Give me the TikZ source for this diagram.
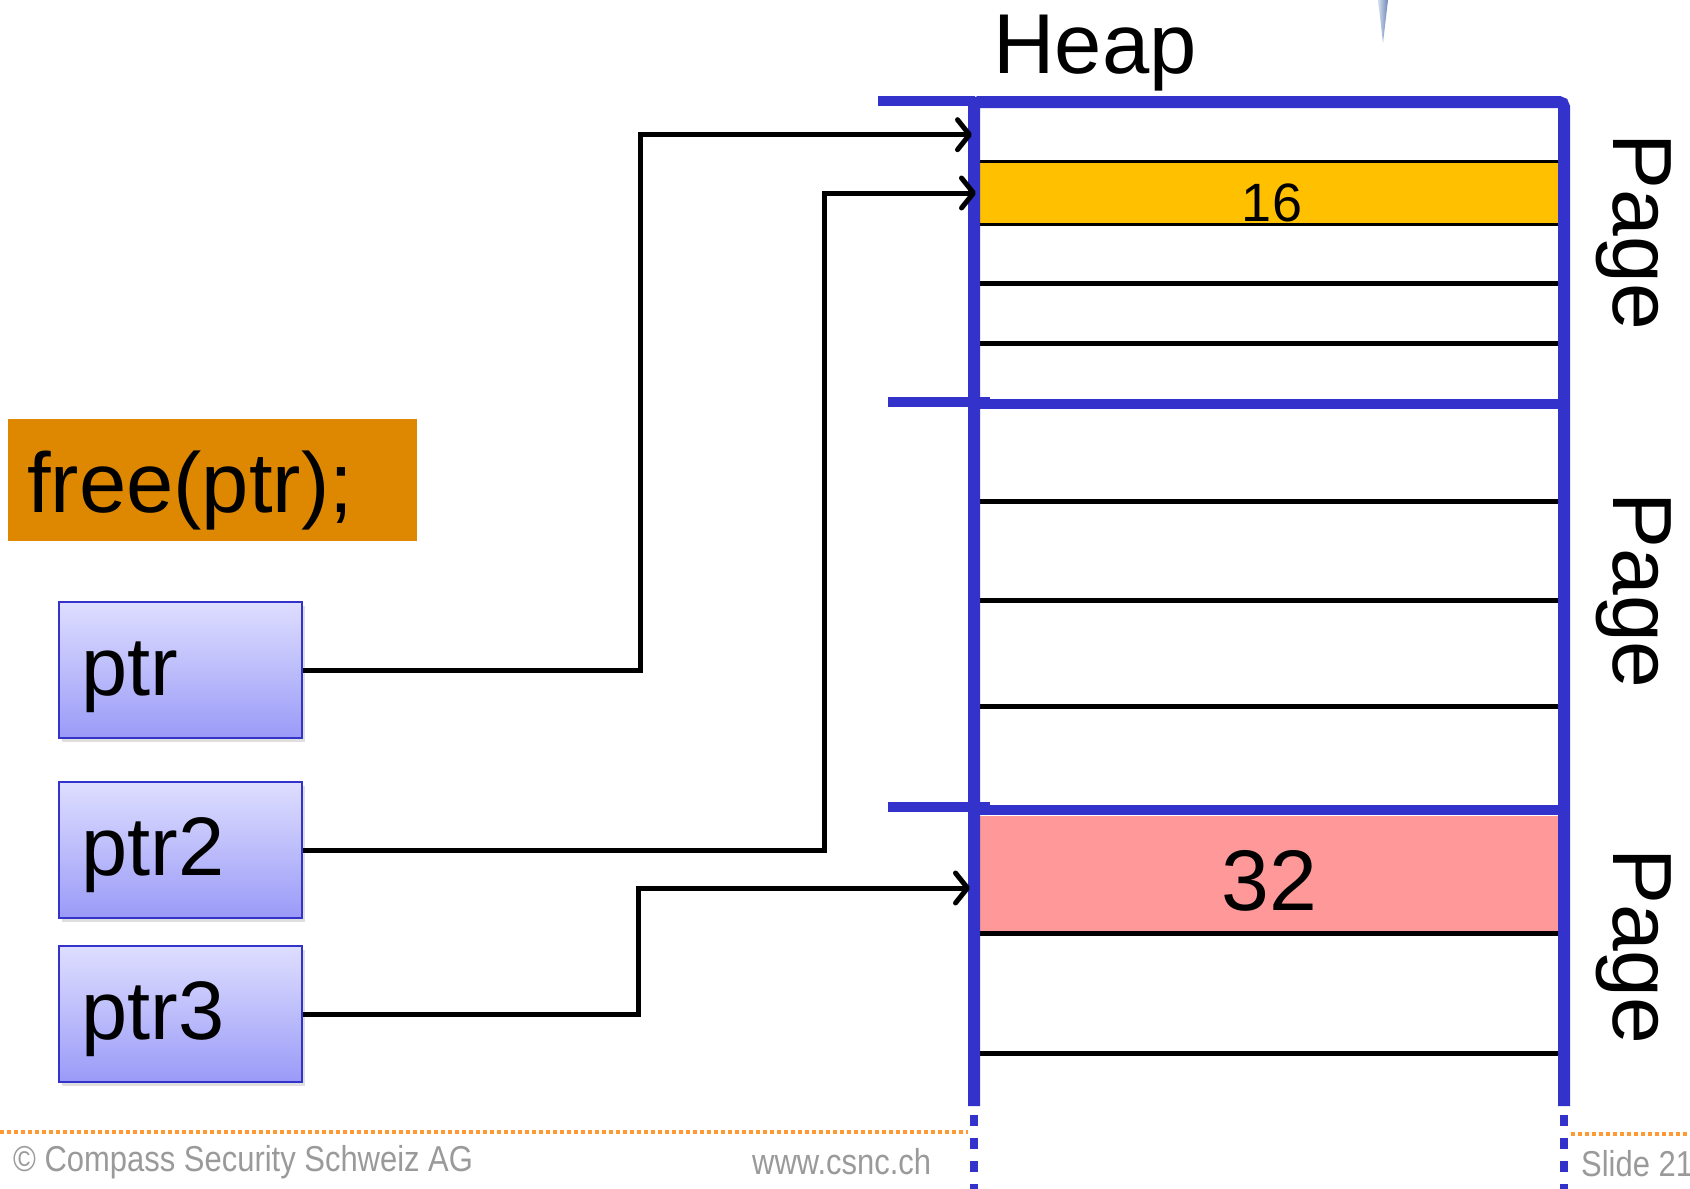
\documentclass[tikz,border=0pt]{standalone}
\usepackage{fontspec}
\usepackage{graphicx}
\setmainfont{Liberation Sans}
\usetikzlibrary{arrows.meta,shadows}
\definecolor{heapblue}{HTML}{3333CC}
\definecolor{slotyellow}{HTML}{FFC000}
\definecolor{slotpink}{HTML}{FF9999}
\definecolor{cmdorange}{HTML}{DD8800}
\definecolor{boxtop}{HTML}{DEDEFF}
\definecolor{boxbottom}{HTML}{9A9AF8}
\definecolor{footgray}{HTML}{9A9A9A}
\definecolor{footorange}{HTML}{FF9933}
\definecolor{tiplight}{HTML}{D4DEEE}
\definecolor{tipdark}{HTML}{6A86B8}
\newcommand\setfs[1]{\fontsize{#1}{#1}\selectfont}
\begin{document}
\begin{tikzpicture}[x=1pt,y=-1pt,
  wall/.style={draw=heapblue,line width=12pt},
  pagesep/.style={draw=heapblue,line width=9.5pt},
  slotline/.style={draw=black,line width=5pt},
  ptrbox/.style={draw=heapblue,line width=2pt,top color=boxtop,bottom color=boxbottom,
    minimum width=243pt,minimum height=136pt,inner sep=0pt,anchor=north west,
    drop shadow={opacity=0.25,shadow xshift=3pt,shadow yshift=-4pt}},
  ptrtext/.style={anchor=base west,inner sep=0pt,font=\setfs{83}},
  pagelabel/.style={anchor=base,rotate=-90,inner sep=0pt,font=\setfs{84}},
  link/.style={draw=black,line width=5pt,-{Straight Barb[length=12pt,width=30pt,round]}},
  foot/.style={inner sep=0pt,text=footgray,font=\setfs{36}},
  footdots/.style={draw=footorange,line width=4pt,dash pattern=on 4pt off 3pt}
]
\useasboundingbox (0,0) rectangle (1690,1189);

% small tapered pointer at the top edge
\shade[left color=tiplight,right color=tipdark]
  (1378,0) -- (1388,0) -- (1383,43) -- cycle;

% heap title
\node[anchor=base,inner sep=0pt,font=\setfs{85}] (heaptitle) at (1095,73) {Heap};

% coloured slots
\node[fill=slotyellow,draw=black,line width=2.8pt,inner sep=0pt,
  minimum width=582pt,minimum height=62.5pt] (slot16) at (1269.7,193) {};
\node[inner sep=0pt,font=\setfs{54}] (lbl16) at (1272,202.6) {16};
\node[fill=slotpink,inner sep=0pt,minimum width=582pt,minimum height=117.5pt]
  (slot32) at (1269.7,874.7) {};
\node[inner sep=0pt,font=\setfs{86}] (lbl32) at (1269.6,880.6) {32};

% slot boundaries
\foreach \yy in {283.5,343.8,501.2,600.3,706,933.4,1053}
  \draw[slotline] (974,\yy) -- (1562,\yy);

% page boundaries
\draw[pagesep] (888,402) -- (990,402);
\draw[pagesep] (975,404) -- (1560,404);
\draw[pagesep] (888,807) -- (990,807);
\draw[pagesep] (975,810) -- (1560,810);

% heap walls
\draw[draw=heapblue,line width=9.5pt] (878,101) -- (975,101);
\draw[wall,rounded corners=5pt] (974,1106) -- (974,102) -- (1564,102) -- (1564,1106);
\draw[draw=heapblue,line width=8pt,dash pattern=on 11pt off 12pt] (974,1115) -- (974,1189);
\draw[draw=heapblue,line width=8pt,dash pattern=on 11pt off 12pt] (1564,1115) -- (1564,1189);

% page labels
\node[pagelabel] (page1) at (1613,231.7) {Page};
\node[pagelabel] (page2) at (1613,590.6) {Page};
\node[pagelabel] (page3) at (1613,946.3) {Page};

% the call being executed
\node[fill=cmdorange,inner sep=0pt,minimum width=409.5pt,minimum height=122pt,
  anchor=north west] (freebox) at (7.5,419) {};
\node[anchor=base west,inner sep=0pt,font=\setfs{85}] (freetext) at (27,512) {free(ptr);};

% pointer variables
\node[ptrbox] (ptr1) at (58,601) {};
\node[ptrtext] (ptr1text) at ([xshift=23pt,yshift=-94pt]ptr1.north west) {ptr};
\node[ptrbox] (ptr2) at (58,781) {};
\node[ptrtext] (ptr2text) at ([xshift=23pt,yshift=-94pt]ptr2.north west) {ptr2};
\node[ptrbox] (ptr3) at (58,945) {};
\node[ptrtext] (ptr3text) at ([xshift=23pt,yshift=-94pt]ptr3.north west) {ptr3};

% pointer targets
\coordinate (target1) at (972,134.7);
\coordinate (target2) at (976,193);
\coordinate (target3) at (970,888);
\draw[link] (ptr1.east) -- ++(337,0) |- (target1);
\draw[link] (ptr2.east) -- ++(521,0) |- (target2);
\draw[link] (ptr3.east) -- ++(335,0) |- (target3);

% footer
\draw[footdots] (0,1132) -- (968,1132);
\draw[footdots] (1571,1134) -- (1690,1134);
\node[foot,anchor=west] (copy) at (13,1162) {\scalebox{0.86}[1]{© Compass Security Schweiz AG}};
\node[foot,anchor=west] (web) at (752,1162) {\scalebox{0.86}[1]{www.csnc.ch}};
\node[foot,anchor=west] (slide) at (1581,1164) {\scalebox{0.86}[1]{Slide 21}};
\end{tikzpicture}
\end{document}
